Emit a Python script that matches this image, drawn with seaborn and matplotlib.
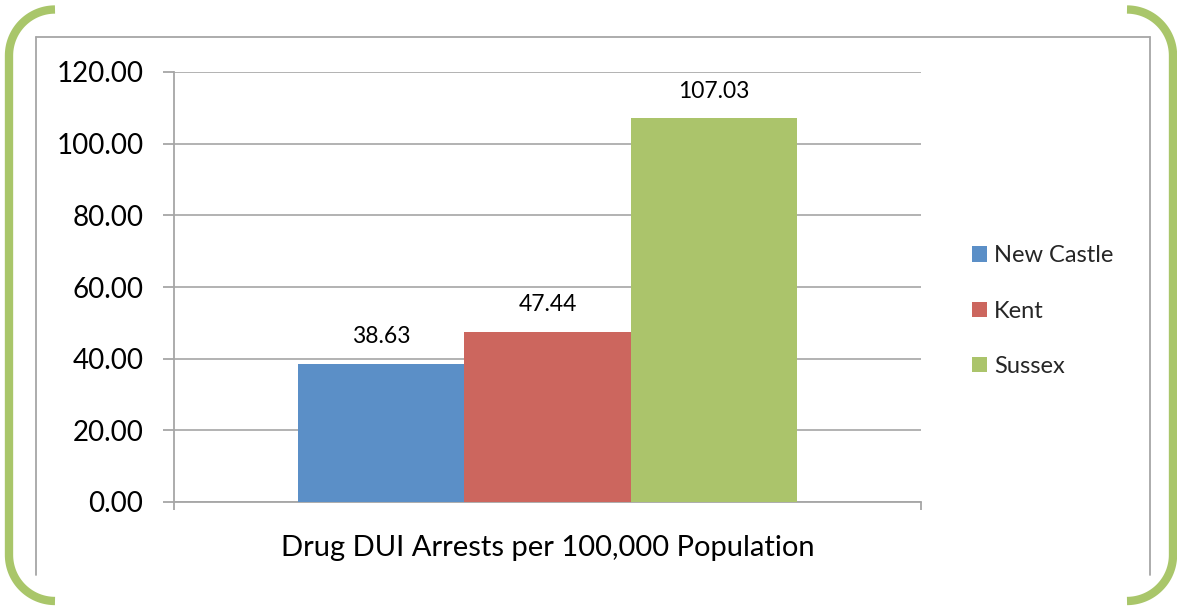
import numpy as np
import pandas as pd
import matplotlib
matplotlib.use("Agg")
import matplotlib.pyplot as plt
from matplotlib.ticker import FormatStrFormatter, FixedLocator
import seaborn as sns

# Data
counties = ["New Castle", "Kent", "Sussex"]
arrest_rates = [38.63, 47.44, 107.03]
measure = "Drug DUI Arrests per 100,000 Population"
bar_colors = ["#5B8FC7", "#CC665E", "#ABC46B"]
y_ticks = [0, 20, 40, 60, 80, 100, 120]

df = pd.DataFrame({
    "measure": [measure] * len(counties),
    "county": counties,
    "rate": arrest_rates,
})

sns.set_theme(style="white")
plt.rcParams["font.family"] = ["Lato", "DejaVu Sans"]

W, H = 1177, 607
fig = plt.figure(figsize=(W / 100, H / 100), dpi=100)
fig.patch.set_facecolor("white")

# Decorative frame layer in pixel coordinates
deco = fig.add_axes([0, 0, 1, 1], zorder=0)
deco.set_xlim(0, W)
deco.set_ylim(H, 0)
deco.axis("off")

frame_gray = "#A6A6A6"
deco.plot([36, 36], [37, 575], color=frame_gray, lw=1.3)
deco.plot([1150, 1150], [37, 575], color=frame_gray, lw=1.3)
deco.plot([36, 1150], [37, 37], color=frame_gray, lw=1.3)

bracket_green = "#A9C66A"
r = 46
t = np.linspace(0, np.pi / 2, 40)


def bracket(x_edge, y_top, y_bot, side):
    # rounded bracket: arc at top, straight vertical, arc at bottom
    s = -1 if side == "left" else 1
    cx = x_edge - s * r
    top_x = cx + s * r * np.sin(t)
    top_y = (y_top + r) - r * np.cos(t)
    bot_x = cx + s * r * np.cos(t)
    bot_y = (y_bot - r) + r * np.sin(t)
    xs = np.concatenate([top_x, bot_x])
    ys = np.concatenate([top_y, bot_y])
    deco.plot(xs, ys, color=bracket_green, lw=6.0, solid_capstyle="butt")


bracket(9, 9.5, 601, "left")
bracket(1173, 9.5, 601, "right")

# Chart axes
ax = fig.add_axes([174 / W, (H - 502) / H, (921 - 174) / W, (502 - 72) / H], zorder=1)
ax.patch.set_alpha(0)

sns.barplot(
    data=df, x="measure", y="rate", hue="county",
    palette=bar_colors, saturation=1, width=0.667, dodge=True,
    ax=ax, legend=True, zorder=3, linewidth=0,
)

ax.set_xlim(-0.5, 0.5)
ax.set_ylim(0, 120)
ax.set_yticks(y_ticks)
ax.yaxis.set_major_formatter(FormatStrFormatter("%.2f"))
ax.grid(axis="y", color="#A6A6A6", lw=1.2, zorder=0)
ax.set_axisbelow(True)

for side in ["top", "right"]:
    ax.spines[side].set_visible(False)
for side in ["left", "bottom"]:
    ax.spines[side].set_color("#A6A6A6")
    ax.spines[side].set_linewidth(1.3)

ax.tick_params(axis="y", which="major", left=True, length=8, width=1.3,
               color="#A6A6A6", labelsize=20, labelcolor="black", pad=14)
ax.tick_params(axis="x", which="major", bottom=False, labelsize=21,
               labelcolor="black", pad=18)
ax.xaxis.set_minor_locator(FixedLocator([-0.5, 0.5]))
ax.tick_params(axis="x", which="minor", bottom=True, length=6, width=1.3,
               color="#A6A6A6")
ax.set_xlabel("")
ax.set_ylabel("")

for container in ax.containers:
    ax.bar_label(container, fmt="%.2f", padding=12, fontsize=16.5, color="black")

handles, labels = ax.get_legend_handles_labels()
ax.get_legend().remove()
fig.legend(
    handles, labels, loc="center left",
    bbox_to_anchor=(951 / W, 1 - 311 / H),
    frameon=False, fontsize=17, handlelength=0.62, handleheight=0.62,
    handletextpad=0.3, labelspacing=1.45,
)

fig.savefig("out.png", dpi=100, facecolor="white")
